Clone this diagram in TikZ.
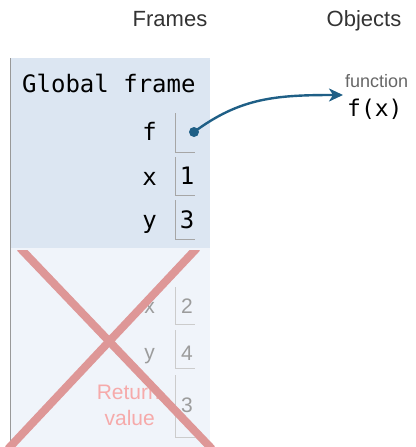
\documentclass[tikz,border=0pt]{standalone}
\usepackage{fontspec}
\setmainfont{Liberation Sans}
\setmonofont{DejaVu Sans Mono}
\usetikzlibrary{arrows.meta}
\definecolor{framebg}{HTML}{DCE6F2}
\definecolor{oldbg}{HTML}{F0F4FA}
\definecolor{ptr}{HTML}{1F5F86}
\definecolor{cross}{HTML}{DE9797}
\definecolor{faded}{HTML}{9C9C9C}
\definecolor{retval}{HTML}{F6AAAA}

\begin{document}
\begin{tikzpicture}
        [x=1pt,y=-1pt,every node/.style={inner sep=0pt,anchor=base},
         head/.style={font=\fontsize{22}{22}\selectfont,text=black!80},
         var/.style={anchor=base east,font=\ttfamily\fontsize{24}{24}\selectfont},
         val/.style={font=\ttfamily\fontsize{24}{24}\selectfont},
         oldvar/.style={anchor=base east,font=\fontsize{21}{21}\selectfont,text=faded},
         oldval/.style={font=\fontsize{21}{21}\selectfont,text=faded}]
        \useasboundingbox (0,0) rectangle (415,447);

        % frames
        \fill[framebg] (10,58) rectangle (210,248);
        \fill[oldbg] (10,248) rectangle (210,447);
        \draw[black!40] (10,58) -- (10,447);

        \node[head] (frames) at (170,27) {Frames};
        \node[head] (objects) at (364,27) {Objects};

        % global frame
        \node[anchor=base west,font=\ttfamily\fontsize{24}{24}\selectfont] (global) at (22,92) {Global frame};
        \node[var] (f) at (157,140) {f};
        \node[var] (x) at (157,185) {x};
        \node[var] (y) at (157,228) {y};
        \node[val] (one) at (187,184) {1};
        \node[val] (three) at (187,228) {3};
        \foreach \t/\b in {113/152, 157/195, 200/239}
            \draw[black!35] (175,\t) -- (175,\b) -- (195,\b);
        \node[circle,fill=ptr,minimum size=10pt] (dot) at (194,132) {};

        % function object
        \node[anchor=base west,font=\fontsize{18}{18}\selectfont,text=black!60] (kind) at (345,87) {function};
        \node[anchor=base west,font=\ttfamily\fontsize{23}{23}\selectfont] (fx) at (347,116) {f(x)};
        \coordinate (fun) at (343,95);
        \draw[ptr,line width=2.4pt,-{Stealth[length=14pt,width=13pt,inset=4pt]}]
            (dot.center) .. controls (240,98) and (275,95) .. (fun);

        % old frame
        \node[oldvar] (x2) at (155,313) {x};
        \node[oldvar] (y2) at (155,359) {y};
        \node[oldval] (two) at (187,313) {2};
        \node[oldval] (four) at (187,360) {4};
        \node[oldval] (ret) at (187,412) {3};
        \node[anchor=base east,font=\fontsize{21}{21}\selectfont,text=retval] (r1) at (160,399) {Return};
        \node[anchor=base east,font=\fontsize{21}{21}\selectfont,text=retval] (r2) at (155,425) {value};
        \foreach \t/\b in {287/324, 330/368, 375/437}
            \draw[black!20] (175,\t) -- (175,\b) -- (195,\b);

        \begin{scope}
            \clip (0,250) rectangle (415,447);
            \draw[cross,line width=8pt] (20,248) -- (212,449);
            \draw[cross,line width=8pt] (197,248) -- (8,449);
        \end{scope}
    \end{tikzpicture}
\end{document}
